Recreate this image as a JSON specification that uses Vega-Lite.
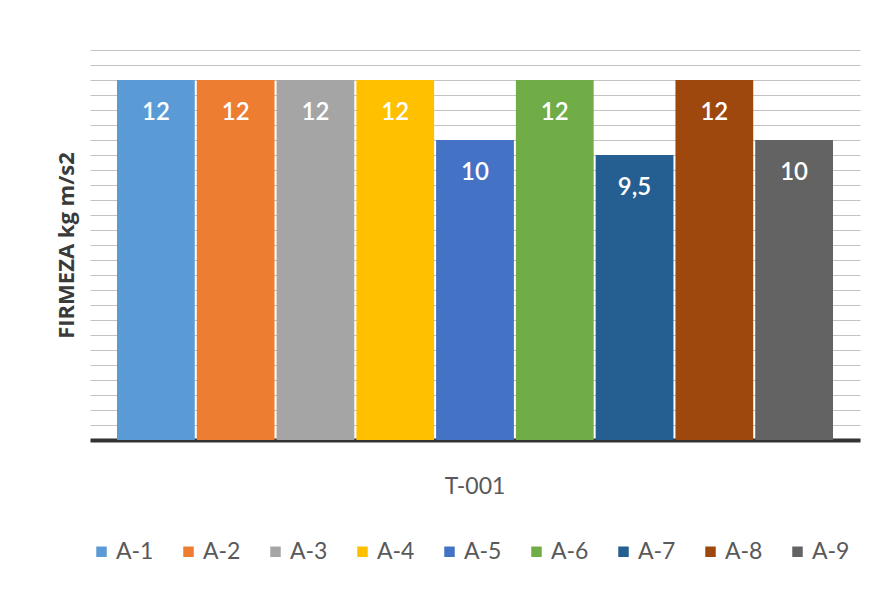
{
  "$schema": "https://vega.github.io/schema/vega-lite/v6.json",
  "width": 770,
  "height": 390,
  "autosize": {"type": "none"},
  "padding": {"left": 90, "top": 50, "right": 25, "bottom": 155},
  "background": "#ffffff",
  "config": {
    "font": "Open Sans",
    "view": {"stroke": null},
    "locale": {
      "number": {"decimal": ",", "thousands": ".", "grouping": [3], "currency": ["", " €"]}
    }
  },
  "data": {
    "values": [
      {"grupo": "T-001", "serie": "A-1", "firmeza": 12},
      {"grupo": "T-001", "serie": "A-2", "firmeza": 12},
      {"grupo": "T-001", "serie": "A-3", "firmeza": 12},
      {"grupo": "T-001", "serie": "A-4", "firmeza": 12},
      {"grupo": "T-001", "serie": "A-5", "firmeza": 10},
      {"grupo": "T-001", "serie": "A-6", "firmeza": 12},
      {"grupo": "T-001", "serie": "A-7", "firmeza": 9.5},
      {"grupo": "T-001", "serie": "A-8", "firmeza": 12},
      {"grupo": "T-001", "serie": "A-9", "firmeza": 10}
    ]
  },
  "encoding": {
    "x": {
      "field": "grupo",
      "type": "nominal",
      "scale": {"paddingInner": 0, "paddingOuter": 0.0377},
      "axis": {
        "title": null,
        "labelAngle": 0,
        "labelFont": "Lato",
        "labelFontSize": 23,
        "labelColor": "#595959",
        "labelPadding": 35,
        "ticks": false,
        "domainColor": "#333333",
        "domainWidth": 4
      }
    },
    "xOffset": {
      "field": "serie",
      "type": "nominal",
      "scale": {"paddingInner": 0.025, "paddingOuter": 0}
    },
    "y": {
      "field": "firmeza",
      "type": "quantitative",
      "scale": {"domain": [0, 13], "nice": false, "zero": true},
      "axis": {
        "title": "FIRMEZA kg m/s2",
        "titleFontSize": 22,
        "titleFontWeight": "bold",
        "titleColor": "#3a3a3a",
        "titlePadding": 12,
        "labels": false,
        "ticks": false,
        "domain": false,
        "grid": true,
        "gridColor": "#c8c2be",
        "gridWidth": 1,
        "values": [0, 0.5, 1, 1.5, 2, 2.5, 3, 3.5, 4, 4.5, 5, 5.5, 6, 6.5, 7, 7.5, 8, 8.5, 9, 9.5, 10, 10.5, 11, 11.5, 12, 12.5, 13]
      }
    }
  },
  "layer": [
    {
      "mark": {"type": "bar"},
      "encoding": {
        "color": {
          "field": "serie",
          "type": "nominal",
          "scale": {
            "domain": ["A-1", "A-2", "A-3", "A-4", "A-5", "A-6", "A-7", "A-8", "A-9"],
            "range": ["#5b9bd5", "#ed7d31", "#a5a5a5", "#ffc000", "#4472c4", "#70ad47", "#255e91", "#9e480e", "#636363"]
          },
          "legend": {
            "title": null,
            "orient": "bottom",
            "direction": "horizontal",
            "columns": 9,
            "symbolType": "square",
            "symbolSize": 110,
            "symbolStrokeWidth": 0,
            "symbolOffset": 0,
            "labelFont": "Lato",
            "labelFontSize": 23,
            "labelColor": "#595959",
            "labelOffset": 3,
            "columnPadding": 23,
            "offset": 42
          }
        }
      }
    },
    {
      "mark": {
        "type": "text",
        "baseline": "middle",
        "align": "center",
        "dy": 33,
        "color": "#ffffff",
        "fontSize": 24,
        "fontWeight": 600,
        "font": "Lato"
      },
      "encoding": {
        "text": {"field": "firmeza", "type": "quantitative", "format": ".1~f"}
      }
    }
  ]
}
